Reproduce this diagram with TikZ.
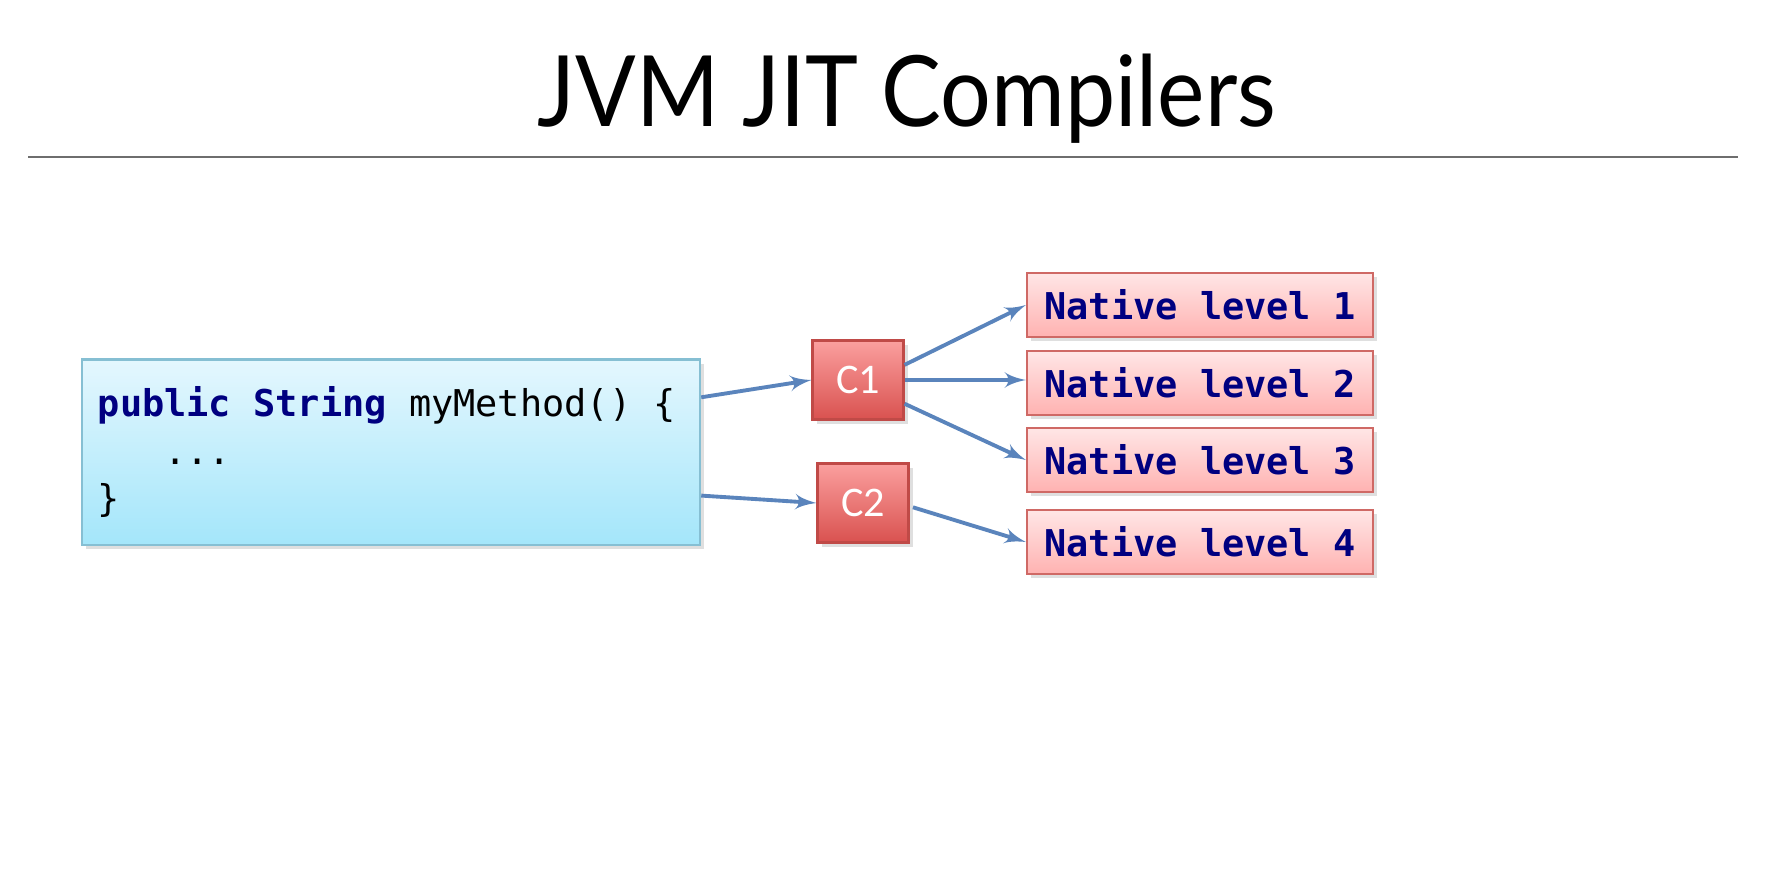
\documentclass[tikz,border=0pt]{standalone}
\usepackage{fontspec}
\setmainfont{Carlito}
\setmonofont{DejaVu Sans Mono}[WordSpace={1,0,0}]
\newfontfamily\titlefont{Lato}[FakeStretch=0.91]
\usepackage{tikz}
\usetikzlibrary{arrows,shadows}
\definecolor{navy}{HTML}{000080}
\definecolor{arrowblue}{HTML}{5A84BC}
\definecolor{rulegray}{HTML}{6E6E6E}
\definecolor{codetop}{HTML}{E4F7FE}
\definecolor{codebottom}{HTML}{A4E6FA}
\definecolor{codeedge}{HTML}{86BFD3}
\definecolor{comptop}{HTML}{FBA09F}
\definecolor{compbottom}{HTML}{D9514F}
\definecolor{compedge}{HTML}{C04A47}
\definecolor{nativetop}{HTML}{FFE6E6}
\definecolor{nativebottom}{HTML}{FFB2B1}
\definecolor{nativeedge}{HTML}{CF6965}
\tikzset{
    box/.style={rectangle,inner sep=0pt,line width=0.6pt,
        drop shadow={opacity=0.25,shadow xshift=1.2pt,shadow yshift=-1.2pt}},
    codebox/.style={box,draw=codeedge,top color=codetop,bottom color=codebottom,
        minimum width=6.18cm,minimum height=1.85cm,text width=5.86cm,align=flush left,
        font=\ttfamily\fontsize{10.5}{13.4}\selectfont},
    compnode/.style={box,draw=compedge,top color=comptop,bottom color=compbottom,
        minimum width=0.91cm,minimum height=0.79cm,text=white,font=\fontsize{12}{14}\selectfont},
    nativenode/.style={box,draw=nativeedge,top color=nativetop,bottom color=nativebottom,
        minimum width=3.46cm,minimum height=0.64cm,text=navy,
        font=\ttfamily\bfseries\fontsize{10.5}{12}\selectfont},
    titletext/.style={font=\titlefont\fontsize{28}{34}\selectfont,inner sep=0pt}
}

\begin{document}
\begin{tikzpicture}[x=0.01cm,y=-0.01cm,->,>=latex',line width=1.1pt,draw=arrowblue]
\useasboundingbox (0,0) rectangle (1779,882);

% title and rule
\node[titletext,anchor=base] (title) at (907,127) {JVM JIT Compilers};
\coordinate (ruleL) at (28,157);
\coordinate (ruleR) at (1738,157);
\draw[-,rulegray,line width=0.5pt] (ruleL) -- (ruleR);

% method source
\node[codebox] (code) at (391,452) {{\bfseries\color{navy}public String} myMethod() \{\\
\hspace*{1.8em}...\\
\}};

% compilers
\node[compnode] (C1) at (858,380) {C1};
\node[compnode] (C2) at (863,503) {C2};

% native code
\node[nativenode] (N1) at (1200,305) {Native level 1};
\node[nativenode] (N2) at (1200,383) {Native level 2};
\node[nativenode] (N3) at (1200,460) {Native level 3};
\node[nativenode] (N4) at (1200,542) {Native level 4};

\path[arrowblue]
(code.10)  edge (C1.west)
(code.-8)  edge (C2.west)
(C1.18)    edge (N1.west)
(C1.east)  edge (C1.east -| N2.west)
(C1.-27)   edge (N3.west)
(C2.-4)    edge[shorten <=1pt] (N4.west);

\end{tikzpicture}
\end{document}
